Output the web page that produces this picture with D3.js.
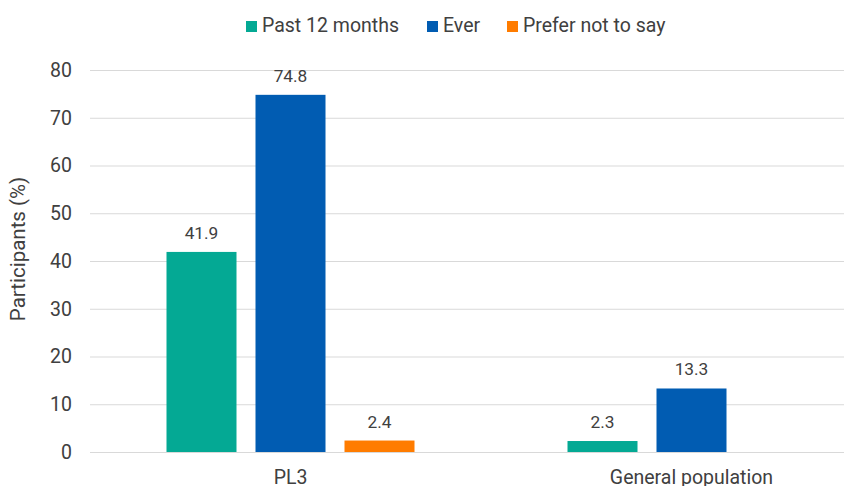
<!DOCTYPE html>
<html>
<head>
<meta charset="utf-8">
<script src="https://cdn.jsdelivr.net/npm/d3@7"></script>
<style>
body { margin: 0; background: #fff; }
svg { font-family: Roboto, "Open Sans", sans-serif; }
</style>
</head>
<body>
<svg width="844" height="486"></svg>
<script>
var categories = ["PL3", "General population"];
var series = ["Past 12 months", "Ever", "Prefer not to say"];
var colors = ["#04A994", "#015CB2", "#FF7C00"];
var pastYear = [41.9, 2.3];
var ever = [74.8, 13.3];
var preferNot = [2.4, null];
var yTicks = [0, 10, 20, 30, 40, 50, 60, 70, 80];

var values = [pastYear, ever, preferNot];
var svg = d3.select("svg");
var textColor = "#404040";

var yScale = d3.scaleLinear().domain([0, 80]).range([452, 70]);
var xScale = d3.scaleBand().domain(categories).range([90, 892]).padding(0);
var x1 = d3.scaleBand().domain(series).range([76.5, 324.5]).paddingInner(19 / 89);

// gridlines
svg.append("g").selectAll("line")
    .data(yTicks)
    .enter().append("line")
    .attr("x1", 90)
    .attr("x2", 844)
    .attr("y1", function (d) { return yScale(d) + 0.5; })
    .attr("y2", function (d) { return yScale(d) + 0.5; })
    .attr("stroke", "#d9d9d9")
    .attr("stroke-width", 1);

var yaxis = svg.append("g")
    .attr("transform", "translate(90,0)")
    .call(d3.axisLeft(yScale).tickValues(yTicks).tickSize(0).tickPadding(18));
yaxis.select(".domain").remove();
yaxis.selectAll("text")
    .attr("font-size", 19.5)
    .attr("font-family", "Roboto, sans-serif")
    .attr("fill", textColor);

svg.append("text")
    .attr("transform", "translate(25,249) rotate(-90)")
    .attr("text-anchor", "middle")
    .attr("font-size", 20.5)
    .attr("fill", textColor)
    .text("Participants (%)");

var xaxis = svg.append("g")
    .attr("transform", "translate(0,452)")
    .call(d3.axisBottom(xScale).tickSize(0).tickPadding(18));
xaxis.select(".domain").remove();
xaxis.selectAll("text")
    .attr("font-size", 19.5)
    .attr("font-family", "Roboto, sans-serif")
    .attr("fill", textColor);

// bars
var rows = [];
for (var s = 0; s < series.length; s++) {
    for (var c = 0; c < categories.length; c++) {
        if (values[s][c] != null) {
            rows.push({ cat: categories[c], ser: series[s], color: colors[s], v: values[s][c] });
        }
    }
}

svg.selectAll(".bar")
    .data(rows)
    .enter().append("rect")
    .attr("class", "bar")
    .attr("x", function (d) { return xScale(d.cat) + x1(d.ser); })
    .attr("y", function (d) { return yScale(d.v); })
    .attr("width", x1.bandwidth())
    .attr("height", function (d) { return 452 - yScale(d.v); })
    .attr("fill", function (d) { return d.color; });

svg.selectAll(".lbl")
    .data(rows)
    .enter().append("text")
    .attr("class", "lbl")
    .attr("x", function (d) { return xScale(d.cat) + x1(d.ser) + x1.bandwidth() / 2; })
    .attr("y", function (d) { return yScale(d.v) - 13; })
    .attr("text-anchor", "middle")
    .attr("font-size", 17.3)
    .attr("fill", textColor)
    .text(function (d) { return d.v.toFixed(1); });

// legend
var legendX = [246, 427, 507];
var legend = svg.append("g");
series.forEach(function (name, i) {
    legend.append("rect")
        .attr("x", legendX[i])
        .attr("y", 21)
        .attr("width", 11)
        .attr("height", 11)
        .attr("fill", colors[i]);
    legend.append("text")
        .attr("x", legendX[i] + 16)
        .attr("y", 32)
        .attr("font-size", 19.5)
        .attr("fill", textColor)
        .text(name);
});
</script>
</body>
</html>
